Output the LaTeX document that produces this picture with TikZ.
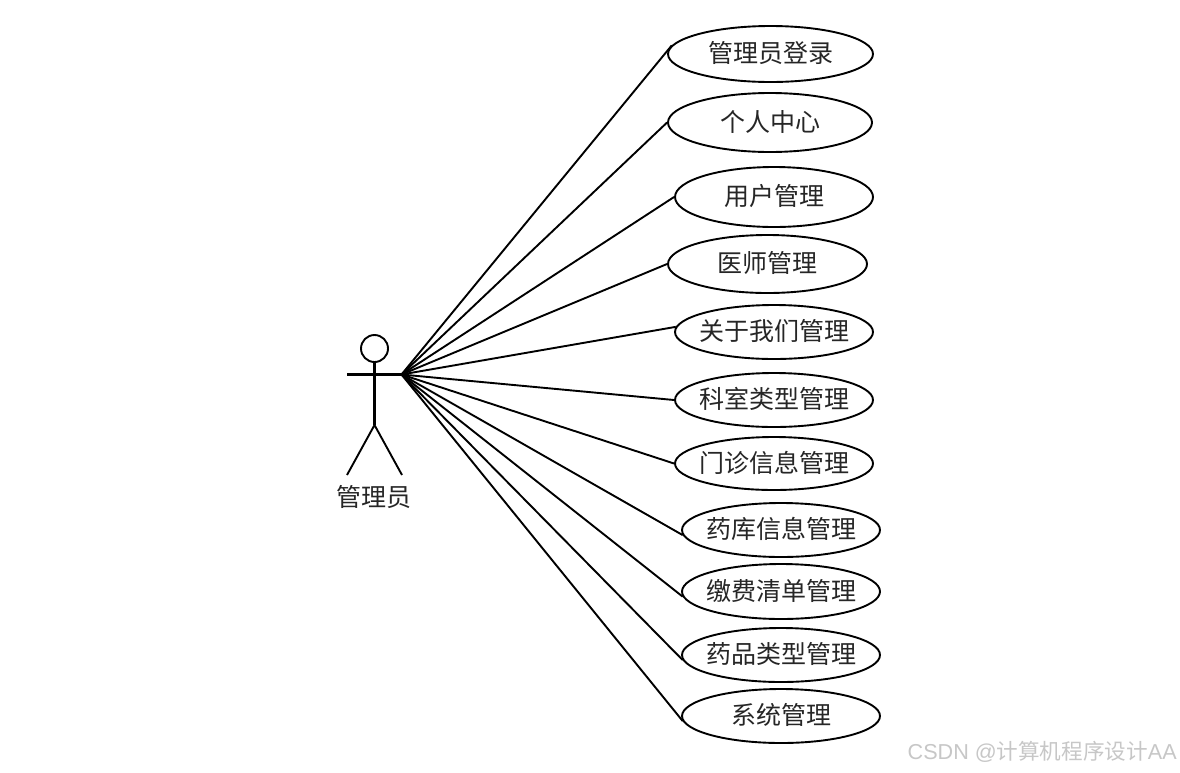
\documentclass[tikz,border=0pt]{standalone}
\usepackage{fontspec}
\usetikzlibrary{shapes.geometric}
\setmainfont{Liberation Sans}
\newfontfamily\cjkreg{Noto Sans CJK SC}
\definecolor{wm}{gray}{0.78}
\newcommand{\uctext}[1]{\makebox[0pt]{\raisebox{-8.5pt}[0pt][0pt]{#1}}}
\tikzset{
  uc/.style={draw=black,line width=1.9pt,ellipse,inner sep=0pt,font=\fontsize{25}{25}\selectfont\cjkreg,text=black!85},
  link/.style={draw=black,line width=1.9pt},
  body/.style={draw=black,line width=2.1pt},
}
\begin{document}
\begin{tikzpicture}[x=1pt,y=-1pt]
\useasboundingbox (0,0) rectangle (1180,772);
\fill[white] (0,0) rectangle (1180,772);
\node[uc,minimum width=205pt,minimum height=56pt] (e1) at (770.5,54) {\uctext{管理员登录}};
\node[uc,minimum width=204pt,minimum height=59pt] (e2) at (770,122.5) {\uctext{个人中心}};
\node[uc,minimum width=198pt,minimum height=60pt] (e3) at (774,197) {\uctext{用户管理}};
\node[uc,minimum width=199pt,minimum height=58pt] (e4) at (767.5,264) {\uctext{医师管理}};
\node[uc,minimum width=198pt,minimum height=54pt] (e5) at (774,332) {\uctext{关于我们管理}};
\node[uc,minimum width=198pt,minimum height=54pt] (e6) at (774,400) {\uctext{科室类型管理}};
\node[uc,minimum width=198pt,minimum height=53pt] (e7) at (774,463.5) {\uctext{门诊信息管理}};
\node[uc,minimum width=198pt,minimum height=54pt] (e8) at (781,530) {\uctext{药库信息管理}};
\node[uc,minimum width=198pt,minimum height=55pt] (e9) at (781,591.5) {\uctext{缴费清单管理}};
\node[uc,minimum width=198pt,minimum height=54pt] (e10) at (781,655) {\uctext{药品类型管理}};
\node[uc,minimum width=198pt,minimum height=54pt] (e11) at (781,716) {\uctext{系统管理}};
\node[draw=black,line width=1.9pt,circle,inner sep=0pt,minimum size=27pt] (head) at (374.5,348.5) {};
\coordinate (hip) at (374.5,425);
\coordinate (armL) at (347,374.5);
\coordinate (hub) at (401.5,374.5);
\coordinate (legL) at (347,475);
\coordinate (legR) at (402,475);
\draw[body] (head.south) -- (hip);
\draw[body] (armL) -- (hub);
\draw[link] (legL) -- (hip) -- (legR);
\node[font=\fontsize{25}{25}\selectfont\cjkreg,text=black!85,inner sep=0pt] (actor) at (374,497) {管理员};
\draw[link] (hub) -- (e1.175);
\draw[link] (hub) -- (e2.180);
\draw[link] (hub) -- (e3.180);
\draw[link] (hub) -- (e4.180);
\draw[link] (hub) -- (e5.177);
\draw[link] (hub) -- (e6.180);
\draw[link] (hub) -- (e7.180);
\draw[link] (hub) -- (e8.183);
\draw[link] (hub) -- (e9.183);
\draw[link] (hub) -- (e10.183);
\draw[link] (hub) -- (e11.183);
\node[anchor=east,inner sep=0pt,text=wm,font=\fontsize{21.6}{22}\selectfont] (wm) at (1177,752) {CSDN @{\cjkreg 计算机程序设计}AA};
\end{tikzpicture}
\end{document}
